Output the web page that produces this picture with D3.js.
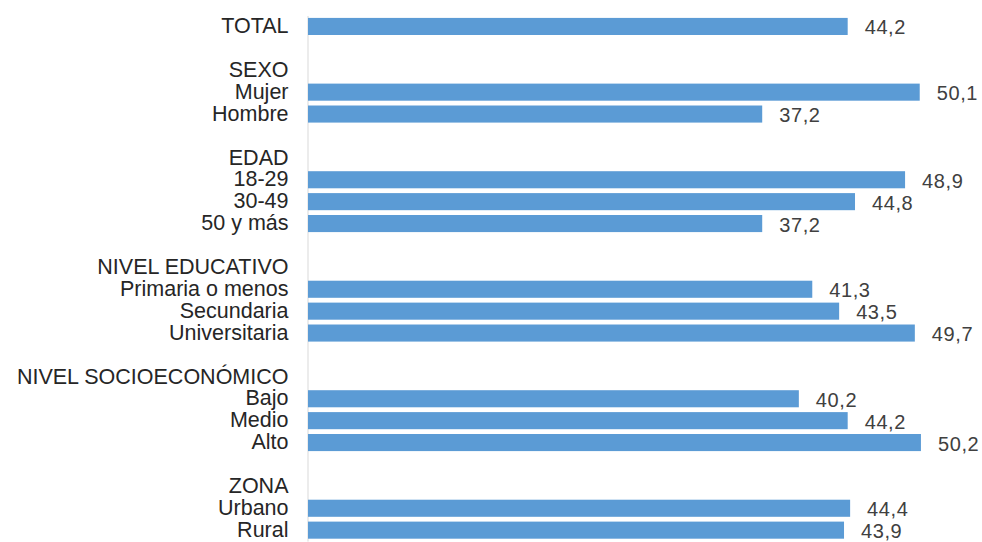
<!DOCTYPE html>
<html>
<head>
<meta charset="utf-8">
<script src="https://cdn.jsdelivr.net/npm/d3@7"></script>
<style>
  html, body { margin: 0; padding: 0; background: #ffffff; }
  svg { display: block; }
</style>
</head>
<body>
<svg id="chart" width="982" height="542"></svg>
<script>
const categories = ["TOTAL", "", "SEXO", "Mujer", "Hombre", "", "EDAD", "18-29", "30-49", "50 y más", "",
  "NIVEL EDUCATIVO", "Primaria o menos", "Secundaria", "Universitaria", "",
  "NIVEL SOCIOECONÓMICO", "Bajo", "Medio", "Alto", "", "ZONA", "Urbano", "Rural"];
const values = [44.2, null, null, 50.1, 37.2, null, null, 48.9, 44.8, 37.2, null,
  null, 41.3, 43.5, 49.7, null,
  null, 40.2, 44.2, 50.2, null, null, 44.4, 43.9];

const svg = d3.select("#chart");
const idx = d3.range(categories.length);

const x = d3.scaleLinear().domain([0, 55]).range([308, 308 + 55 * 12.21]);
const y = d3.scaleBand().domain(idx).range([15.5, 541.1]).paddingInner(0.22).paddingOuter(0.11);

// axis with category labels
const axis = svg.append("g")
  .attr("transform", `translate(307.5,0)`)
  .call(d3.axisLeft(y).tickSize(0).tickPadding(19).tickFormat(i => categories[i]));
axis.select(".domain").attr("stroke", "#d9d9d9").attr("stroke-width", 1);
axis.selectAll("text")
  .attr("font-family", "'Liberation Sans', Arial, sans-serif")
  .attr("font-size", "21.5px")
  .attr("fill", "#262626")
  .attr("dy", "0.31em");

const data = idx.filter(i => values[i] !== null);

svg.append("g").selectAll("rect")
  .data(data)
  .join("rect")
  .attr("x", x(0))
  .attr("y", i => y(i))
  .attr("width", i => x(values[i]) - x(0))
  .attr("height", y.bandwidth())
  .attr("fill", "#5b9bd5");

svg.append("g").selectAll("text")
  .data(data)
  .join("text")
  .attr("x", i => x(values[i]) + 17)
  .attr("y", i => y(i) + y.bandwidth() / 2 + 8)
  .attr("font-family", "'Liberation Sans', Arial, sans-serif")
  .attr("font-size", "20px")
  .attr("letter-spacing", "0.6px")
  .attr("fill", "#404040")
  .text(i => values[i].toFixed(1).replace(".", ","));
</script>
</body>
</html>
